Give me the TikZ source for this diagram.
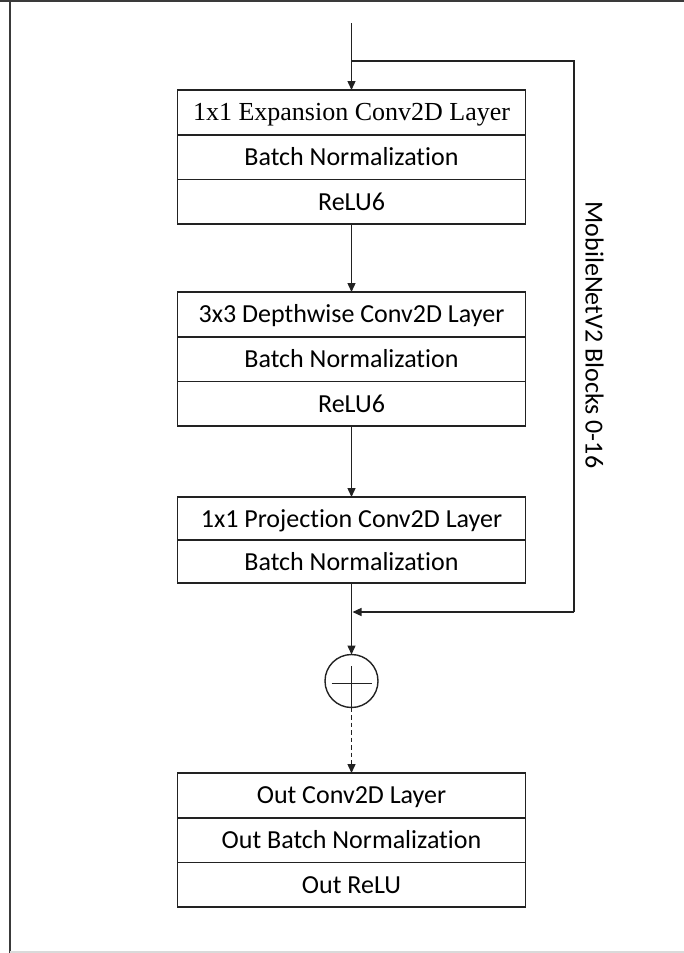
\documentclass[tikz,border=0pt]{standalone}
\usepackage{fontspec}
\setmainfont{Carlito}[Ligatures=NoCommon]
\newfontfamily\serifface{Liberation Serif}
\usetikzlibrary{arrows.meta}

\definecolor{ink}{HTML}{222222}
\definecolor{framedark}{HTML}{3A3A3A}
\definecolor{framelight}{HTML}{DADADA}

\tikzset{
  layer/.style={draw=ink, line width=1.6pt, minimum width=348pt, minimum height=44.7pt,
    inner sep=0pt, outer sep=0pt, font=\fontsize{26}{30}\selectfont,
    text height=17pt, text depth=0pt},
  thinlayer/.style={layer, minimum height=43pt},
  flow/.style={draw=ink, line width=1.4pt, -{Triangle[length=9pt,width=8pt]}},
  dashflow/.style={flow, dash pattern=on 4.5pt off 3pt},
  sumnode/.style={circle, draw=ink, line width=1.4pt, minimum size=53pt, inner sep=0pt, outer sep=0pt},
  sidelabel/.style={font=\fontsize{26}{30}\selectfont, text height=17pt, text depth=0pt, inner sep=0pt}
}

\begin{document}
\begin{tikzpicture}[x=1pt,y=-1pt]
\useasboundingbox (0,0) rectangle (684,953);

% page frame
\draw[framedark, line width=2.4pt] (0,1.2) -- (684,1.2);
\draw[framedark, line width=2pt] (9.8,0) -- (9.8,953);
\draw[framelight, line width=2pt] (9.8,951.8) -- (684,951.8);

% expansion block
\node[layer] (e1) at (351.5,112.35) {\serifface 1x1 Expansion Conv2D Layer};
\node[layer] (e2) at (351.5,157.05) {Batch Normalization};
\node[layer] (e3) at (351.5,201.75) {ReLU6};

% depthwise block
\node[layer] (d1) at (351.5,314.35) {3x3 Depthwise Conv2D Layer};
\node[layer] (d2) at (351.5,359.05) {Batch Normalization};
\node[layer] (d3) at (351.5,403.75) {ReLU6};

% projection block
\node[thinlayer] (p1) at (351.5,518.5) {1x1 Projection Conv2D Layer};
\node[thinlayer] (p2) at (351.5,561.5) {Batch Normalization};

% residual sum
\node[sumnode] (sum) at (351.5,681) {};
\draw[ink, line width=1.3pt] ([xshift=-20pt,yshift=-2.3pt]sum.center) -- ([xshift=20pt,yshift=-2.3pt]sum.center);
\draw[ink, line width=1.3pt] ([yshift=15pt]sum.center) -- (sum.south);

% output block
\node[layer] (o1) at (351.5,795.35) {Out Conv2D Layer};
\node[layer] (o2) at (351.5,840.05) {Out Batch Normalization};
\node[layer] (o3) at (351.5,884.75) {Out ReLU};

% skip connection label
\node[sidelabel, rotate=-90] (lbl) at (594,335) {MobileNetV2 Blocks 0-16};

% connectors
\coordinate (src) at (351.5,23);
\coordinate (split) at (351.5,61);
\coordinate (sk1) at (574,61);
\coordinate (sk2) at (574,612);
\coordinate (merge) at (352.5,612);

\draw[flow] (src) -- (e1.north);
\draw[draw=ink, line width=1.4pt] (split) -- (sk1) -- (sk2);
\draw[flow] (sk2) -- (merge);
\draw[flow] (e3.south) -- (d1.north);
\draw[flow] (d3.south) -- (p1.north);
\draw[flow] (p2.south) -- (sum.north);
\draw[dashflow] (sum.south) -- (o1.north);
\end{tikzpicture}
\end{document}
